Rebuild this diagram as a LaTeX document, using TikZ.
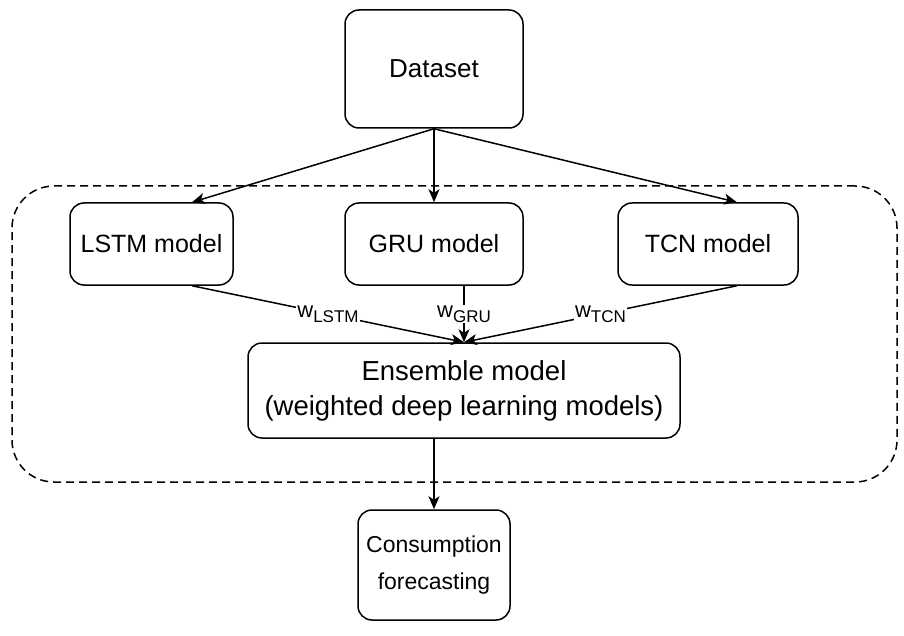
\documentclass[tikz,border=0pt]{standalone}
\usepackage{fontspec}
\setmainfont{Liberation Sans}
\usetikzlibrary{arrows.meta}
\begin{document}
\begin{tikzpicture}[x=1pt,y=-1pt,
  box/.style={draw, line width=1.5pt, rounded corners=14pt, inner sep=0pt,
    align=center, font=\fontsize{25}{32}\selectfont},
  frame/.style={draw, line width=1.5pt, dash pattern=on 8pt off 5pt,
    rounded corners=42pt, inner sep=0pt},
  arr/.style={line width=1.5pt, -{Stealth[length=13pt,width=11pt,inset=3.5pt]}},
  wlab/.style={fill=white, inner sep=1pt, font=\fontsize{22}{26}\selectfont}
]
\path[use as bounding box] (0,0) rectangle (904,636);

% processing stage enclosed in a dashed frame
\node[frame, minimum width=885pt, minimum height=296pt] (grp) at (454.5,334) {};

\node[box, minimum width=178pt, minimum height=118pt,
  font=\fontsize{26}{32}\selectfont] (ds) at (434,69) {Dataset};

\node[box, minimum width=163pt, minimum height=82pt] (lstm) at (151.5,244) {LSTM model};
\node[box, minimum width=178pt, minimum height=82pt] (gru) at (434,244) {GRU model};
\node[box, minimum width=180pt, minimum height=82pt] (tcn) at (708,244) {TCN model};

\node[box, minimum width=432pt, minimum height=95pt,
  font=\fontsize{27.5}{35}\selectfont] (ens) at (464,390.5)
  {Ensemble model\\(weighted deep learning models)};
\node[box, minimum width=152pt, minimum height=110pt,
  font=\fontsize{23}{37}\selectfont] (cf) at (434,565)
  {Consumption\\forecasting};

% data flow into the three models
\draw[arr] (ds.south) -- ([xshift=40.5pt]lstm.north);
\draw[arr] (ds.south) -- (gru.north);
\draw[arr] (ds.south) -- ([xshift=29pt]tcn.north);

% weighted outputs combined by the ensemble
\draw[arr] ([xshift=40.5pt]lstm.south) -- node[wlab] (wl)
  {w\raisebox{-5pt}{\fontsize{17}{20}\selectfont LSTM}} (ens.north);
\draw[arr] (ens.north |- gru.south) -- node[wlab] (wg)
  {w\raisebox{-5pt}{\fontsize{17}{20}\selectfont GRU}} (ens.north);
\draw[arr] ([xshift=29pt]tcn.south) -- node[wlab] (wt)
  {w\raisebox{-5pt}{\fontsize{17}{20}\selectfont TCN}} (ens.north);

% final forecast
\draw[arr] (cf.north |- ens.south) -- (cf.north);
\end{tikzpicture}
\end{document}
